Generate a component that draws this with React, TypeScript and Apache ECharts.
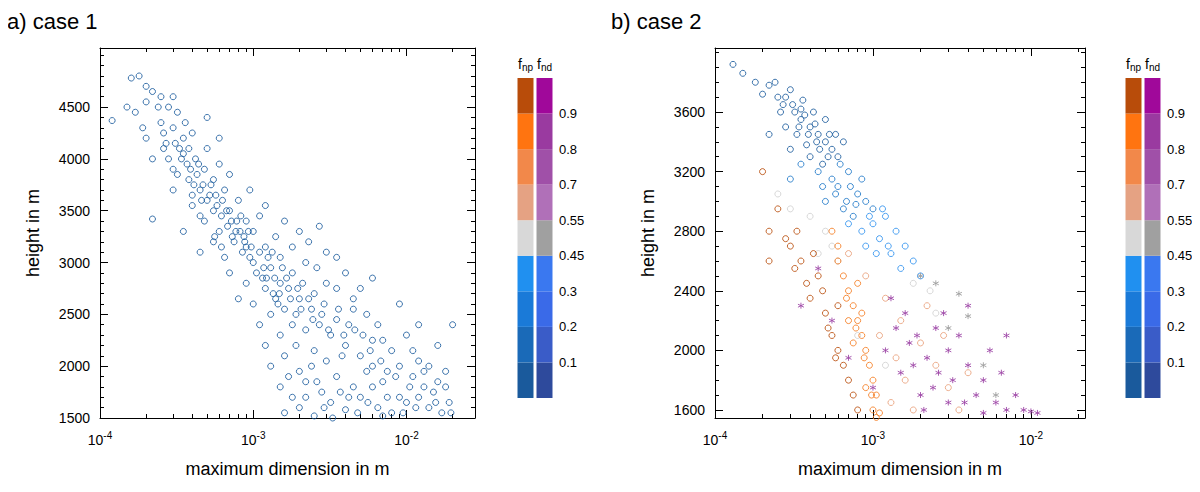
import React, { useEffect, useRef } from "react";
import * as echarts from "echarts";

// diameter in mm, height in m
const case1Points: number[][] = [
  [0.12, 4370], [0.15, 4500], [0.16, 4780], [0.18, 4800], [0.2, 4700], [0.22, 4650], [0.17, 4450], [0.25, 4600],
  [0.2, 4200], [0.22, 4000], [0.25, 4350], [0.28, 4500], [0.3, 4300], [0.27, 4150], [0.32, 4450], [0.35, 4200],
  [0.3, 3900], [0.35, 4050], [0.4, 4250], [0.38, 3800], [0.42, 4000], [0.45, 3700], [0.5, 4100], [0.48, 3900],
  [0.55, 3800], [0.6, 3950], [0.5, 3600], [0.55, 3500], [0.65, 3700], [0.7, 3850], [0.22, 3420], [0.35, 3300],
  [0.45, 3450], [0.6, 3300], [0.7, 3500], [0.8, 3600], [0.9, 3400], [0.75, 3200], [0.85, 3100], [1.0, 3300],
  [1.1, 3450], [0.65, 3050], [0.7, 2900], [0.9, 2800], [1.0, 3000], [1.2, 3150], [1.4, 3250], [1.6, 3400],
  [1.3, 2950], [1.5, 3050], [1.8, 3150], [2.0, 3300], [2.3, 3200], [0.8, 2650], [1.0, 2600], [1.2, 2750],
  [1.5, 2800], [1.8, 2900], [2.2, 3000], [2.6, 2950], [3, 3100], [1.1, 2400], [1.3, 2500], [1.6, 2550],
  [2, 2650], [2.5, 2700], [3, 2800], [3.5, 2750], [4, 2900], [4.5, 2650], [1.2, 2200], [1.5, 2300],
  [1.8, 2400], [2.2, 2350], [2.8, 2500], [3.5, 2450], [4.5, 2550], [5.5, 2500], [6.5, 2400], [7, 2250],
  [1.3, 2000], [1.6, 2100], [2, 1950], [2.5, 2150], [3, 2050], [4, 2200], [5, 2100], [6, 2250],
  [8, 2150], [10, 2300], [12, 2050], [1.5, 1800], [1.8, 1700], [2.2, 1850], [2.8, 1750], [3.5, 1900],
  [4.5, 1800], [5.5, 1950], [7, 1850], [9, 1700], [11, 1900], [13, 1800], [15, 1750], [18, 1950],
  [1.6, 1550], [2, 1600], [2.5, 1520], [3.2, 1650], [4, 1580], [5, 1700], [6.5, 1600], [8, 1550],
  [10, 1650], [14, 1600], [17, 1550], [20, 2400], [19, 1650], [0.95, 3700], [1.2, 3550], [0.4, 3550],
  [0.3, 3700], [0.28, 4000], [0.5, 4400], [0.6, 4200], [2.7, 3350], [3.5, 3050], [5, 2750], [6, 2850],
  [9, 2600], [12, 2400], [16, 2200], [1.7, 1900], [2.4, 2000], [1.4, 2650], [0.9, 3150], [0.55, 3200],
  [0.45, 3100], [0.26, 4250], [0.33, 4100], [0.37, 3950], [0.43, 3850], [0.47, 3750], [0.52, 3650], [0.58, 3550],
  [0.62, 3450], [0.68, 3350], [0.73, 3250], [0.78, 3400], [0.82, 3300], [0.88, 3200], [0.95, 3050], [1.05, 2900],
  [1.15, 2850], [1.25, 3050], [1.35, 2700], [1.45, 2600], [1.55, 2950], [1.7, 2750], [1.9, 2500], [2.1, 2800],
  [2.4, 2550], [2.7, 2400], [3.2, 2300], [3.8, 2100], [4.2, 2400], [5.2, 2300], [6, 2000], [7.5, 1950],
  [9, 2000], [11, 2150], [14, 2000], [16, 1850], [1.9, 2200], [2.6, 1850], [3.3, 1500], [4.2, 1700],
  [6, 1800], [7.5, 1700], [12, 1700], [0.32, 3850], [0.4, 3650], [0.48, 3400], [0.56, 3250], [0.62, 3150],
  [0.34, 4000], [0.39, 3900], [0.44, 3950], [0.41, 3750], [0.46, 3600], [0.53, 3750], [0.57, 3650], [0.63, 3600],
  [0.67, 3500], [0.72, 3400], [0.77, 3300], [0.83, 3450], [0.87, 3250], [0.93, 3300], [0.97, 3150], [1.1, 3100],
  [1.17, 2950], [1.22, 2850], [1.33, 3100], [1.38, 2850], [1.48, 2700], [1.65, 2850], [1.75, 2650], [1.95, 2750],
  [2.05, 2550], [2.3, 2650], [2.45, 2450], [2.9, 2600], [3.1, 2350], [3.6, 2550], [3.9, 2300], [4.6, 2350],
  [5.8, 2150], [6.8, 2050], [8.5, 1900], [10.5, 1800], [13, 1950], [15.5, 1650], [18, 1800], [19.5, 1550],
  [2.2, 1700], [2.9, 1600], [3.7, 1750], [4.8, 1550], [5.6, 1650], [7, 1520], [9.5, 1550], [11.5, 1600],
  [0.24, 4500], [0.3, 4600], [0.36, 4350], [0.31, 4150], [0.38, 4100], [0.26, 4100], [0.2, 4550], [0.19, 4300],
];

const case2DarkBlue: number[][] = [
  [0.13, 3920], [0.15, 3860], [0.18, 3800], [0.2, 3720], [0.22, 3780], [0.25, 3700], [0.27, 3650], [0.3, 3750],
  [0.32, 3600], [0.35, 3550], [0.28, 3500], [0.4, 3500], [0.45, 3450], [0.38, 3380], [0.5, 3400], [0.55, 3350],
  [0.6, 3300], [0.48, 3250], [0.65, 3400], [0.3, 3350], [0.22, 3450], [0.42, 3600], [0.5, 3550], [0.36, 3680],
  [0.26, 3600], [0.33, 3450], [0.4, 3300], [0.44, 3400], [0.52, 3300], [0.58, 3450], [0.35, 3620], [0.28, 3700],
  [0.31, 3650], [0.34, 3500], [0.37, 3580], [0.39, 3450], [0.43, 3520], [0.46, 3350], [0.53, 3450], [0.24, 3800],
];
const case2MidBlue: number[][] = [
  [0.35, 3250], [0.45, 3200], [0.55, 3150], [0.6, 3100], [0.7, 3200], [0.8, 3050], [0.5, 3000], [0.65, 2950],
  [0.75, 2900], [0.9, 3000], [1.0, 2950], [0.3, 3150], [0.58, 3050], [0.68, 3000], [0.85, 3150], [0.62, 3250],
  [0.72, 3100], [0.78, 2980], [0.48, 3100],
];
const case2LightBlue: number[][] = [
  [0.7, 2850], [0.85, 2800], [1.0, 2850], [1.1, 2750], [1.2, 2900], [1.4, 2800], [1.6, 2700], [1.3, 2650],
  [1.8, 2600], [0.9, 2700], [1.5, 2550], [2.0, 2500], [0.95, 2900], [1.15, 2950], [1.25, 2700], [1.05, 2650],
];
const case2Grey: number[][] = [
  [0.25, 3050], [0.3, 2950], [0.4, 2900], [0.5, 2800], [0.55, 2700], [0.45, 2650], [0.6, 2600], [1.8, 2450],
  [2.3, 2400], [2.5, 2250], [0.8, 2100], [1.2, 1900],
];
const case2DarkOrange: number[][] = [
  [0.2, 3200], [0.22, 2600], [0.22, 2800], [0.25, 2950], [0.28, 2750], [0.3, 2700], [0.32, 2550], [0.35, 2600],
  [0.38, 2450], [0.4, 2350], [0.45, 2500], [0.5, 2250], [0.55, 2100], [0.6, 2000], [0.65, 1900], [0.7, 1800],
  [0.6, 2300], [0.75, 1700], [0.8, 1600], [0.33, 2800], [0.42, 2650], [0.48, 2400], [0.52, 2150], [0.58, 1950],
];
const case2Orange: number[][] = [
  [0.55, 2800], [0.6, 2600], [0.65, 2500], [0.7, 2400], [0.75, 2300], [0.8, 2200], [0.85, 2100], [0.9, 2000],
  [0.95, 1900], [1.0, 1800], [1.05, 1700], [1.0, 1600], [0.7, 2200], [0.8, 2450], [0.9, 1750], [1.1, 1580],
  [0.6, 2700], [0.75, 2050], [0.68, 2350], [0.78, 2150], [0.88, 1950], [0.98, 1700], [1.05, 1550], [0.85, 2250],
];
const case2LightOrange: number[][] = [
  [0.7, 2650], [0.9, 2500], [1.2, 2350], [1.5, 2200], [2, 2050], [2.5, 1900], [3, 1750], [1.3, 1650],
  [1.8, 1600], [4, 1850], [1.1, 2100], [2.2, 2300], [1.6, 1800], [2.8, 2100], [3.5, 1600], [1.4, 1950],
];
const case2PurpleStars: number[][] = [
  [0.35, 2300], [0.45, 2550], [0.55, 2200], [0.7, 1950], [1.0, 1750], [1.2, 2000], [1.4, 2150], [1.6, 2250],
  [1.9, 2100], [2.2, 1950], [2.6, 1850], [3, 2000], [3.5, 2100], [4, 1900], [4.5, 1700], [5, 1800],
  [6, 1650], [7, 1600], [8, 1700], [9, 1600], [10, 1590], [2, 1700], [1.5, 1850], [3, 1650],
  [5.5, 2000], [4, 2300], [2.8, 2250], [1.3, 2350], [11, 1580], [6.5, 1850], [7, 2100], [1.8, 1900],
  [2.4, 1750], [3.2, 1800], [2.1, 1600], [1.7, 2050], [2.5, 2150], [3.8, 1650], [5, 1580],
];
const case2GreyStars: number[][] = [
  [2, 2500], [2.5, 2450], [3.5, 2380], [4, 2230], [3, 2150], [5, 1900], [6, 1700],
];

const barColumns = ["np", "nd"];
const fnpColors = ["#1a5a9c", "#1a6ab8", "#1a7ad8", "#2090f0", "#d8d8d8", "#e5a283", "#f2884a", "#ff7410", "#b84c0a"];
const fndColors = ["#2e4a9c", "#3a5cc8", "#3a6ae8", "#3a78f0", "#a0a0a0", "#b070b8", "#a050a8", "#9a3aa0", "#a0089a"];
const barLabels = ["0.1", "0.2", "0.3", "0.45", "0.55", "0.7", "0.8", "0.9"];

const font = "Liberation Sans, Arial, sans-serif";
const toM = (pts: number[][]) => pts.map((p) => [p[0] / 1000, p[1]]);
const star = "path://M0,-10L0,10M-8.66,-5L8.66,5M-8.66,5L8.66,-5";

const logLabel = (v: number) => {
  const e = Math.round(Math.log10(v));
  if (Math.abs(v - Math.pow(10, e)) / v > 1e-6) return "";
  return `{b|10}{s|${e}}`;
};

const App: React.FC = () => {
  const ref = useRef<HTMLDivElement>(null);

  useEffect(() => {
    if (!ref.current) return;
    const chart = echarts.init(ref.current, undefined, { renderer: "svg" });

    const grids = [
      { left: 92, top: 40, width: 375, height: 370, outerBoundsMode: "none" },
      { left: 707, top: 40, width: 370, height: 370, outerBoundsMode: "none" },
      { left: 508, top: 70, width: 38, height: 320, outerBoundsMode: "none" },
      { left: 1116, top: 70, width: 38, height: 320, outerBoundsMode: "none" },
    ];
    const axLine = { show: true, lineStyle: { color: "#000", width: 1 } };
    const xAxes: any[] = [];
    const yAxes: any[] = [];
    [0.028, 0.022].forEach((mx, g) => {
      [false, true].forEach((mirror) => {
        xAxes.push({
          type: "log", logBase: 10, min: 1e-4, max: mx, gridIndex: g,
          position: mirror ? "top" : "bottom",
          axisLine: axLine,
          axisTick: { show: true, inside: true, length: 8, lineStyle: { color: "#000" } },
          minorTick: { show: true, splitNumber: 9, length: 4, lineStyle: { color: "#000" } },
          splitLine: { show: false },
          axisLabel: mirror ? { show: false } : {
            formatter: logLabel, margin: 12,
            rich: {
              b: { fontSize: 14, fontFamily: font, color: "#000" },
              s: { fontSize: 10, fontFamily: font, color: "#000", padding: [0, 0, 10, 0] },
            },
          },
          name: mirror ? "" : "maximum dimension in m",
          nameLocation: "middle", nameGap: 42,
          nameTextStyle: { fontSize: 18, fontFamily: font, color: "#000" },
        });
      });
    });
    const yDefs = [
      { min: 1500, max: 5070, labels: [1500, 2000, 2500, 3000, 3500, 4000, 4500], minor: [] as number[] },
      { min: 1546, max: 4030, labels: [1600, 2000, 2400, 2800, 3200, 3600], minor: [] as number[] },
    ];
    yDefs[0].minor = Array.from({ length: 36 }, (_, i) => 1500 + i * 100);
    yDefs[1].minor = Array.from({ length: 25 }, (_, i) => 1600 + i * 100).filter((v) => v <= 4030);
    yDefs.forEach((d, g) => {
      [false, true].forEach((mirror) => {
        yAxes.push({
          type: "value", min: d.min, max: d.max, gridIndex: g,
          position: mirror ? "right" : "left",
          axisLine: axLine,
          axisTick: { show: true, inside: true, length: 8, customValues: d.labels, lineStyle: { color: "#000" } },
          splitLine: { show: false },
          axisLabel: mirror ? { show: false } : {
            customValues: d.labels, fontSize: 14, fontFamily: font, color: "#000", margin: 10,
            formatter: (v: number) => String(v),
          },
          name: mirror ? "" : "height in m",
          nameLocation: "middle", nameGap: 58,
          nameTextStyle: { fontSize: 18, fontFamily: font, color: "#000" },
        });
      });
    });
    yDefs.forEach((d, g) => {
      [false, true].forEach((mirror) => {
        yAxes.push({
          type: "value", min: d.min, max: d.max, gridIndex: g,
          position: mirror ? "right" : "left",
          axisLine: { show: false },
          axisTick: { show: true, inside: true, length: 4, customValues: d.minor, lineStyle: { color: "#000" } },
          splitLine: { show: false },
          axisLabel: { show: false },
        });
      });
    });
    const barY0 = yAxes.length;
    [2, 3].forEach((g) => {
      xAxes.push({
        type: "category", data: barColumns, gridIndex: g, position: "top",
        axisLine: { show: false }, axisTick: { show: false },
        axisLabel: {
          interval: 0, margin: 6, formatter: (v: string) => `{f|f}{s|${v}}`,
          rich: {
            f: { fontSize: 14, fontFamily: font, color: "#000" },
            s: { fontSize: 10, fontFamily: font, color: "#000", padding: [6, 0, 0, 0] },
          },
        },
      });
      yAxes.push({
        type: "value", min: 0, max: 9, gridIndex: g, position: "right",
        axisLine: { show: false }, axisTick: { show: false }, splitLine: { show: false },
        axisLabel: {
          customValues: [1, 2, 3, 4, 5, 6, 7, 8], fontSize: 13, fontFamily: font, color: "#000", margin: 5,
          formatter: (v: number) => barLabels[Math.round(v) - 1] ?? "",
        },
      });
    });

    const circle = (data: number[][], color: string, g: number, opacity = 0.85) => ({
      type: "scatter", xAxisIndex: g * 2, yAxisIndex: g * 2, data: toM(data),
      symbol: "circle", symbolSize: 6,
      itemStyle: { color: "rgba(0,0,0,0)", borderColor: color, borderWidth: 1, opacity },
    });
    const stars = (data: number[][], color: string) => ({
      type: "scatter", xAxisIndex: 2, yAxisIndex: 2, data: toM(data),
      symbol: star, symbolSize: 6,
      itemStyle: { color: "rgba(0,0,0,0)", borderColor: color, borderWidth: 1, opacity: 0.9 },
    });

    const cells: number[][] = [];
    fnpColors.forEach((_, i) => { cells.push([0, i]); cells.push([1, i]); });
    const barSeries = [0, 1].map((b) => ({
      type: "custom", xAxisIndex: 4 + b, yAxisIndex: barY0 + b,
      data: cells,
      renderItem: (_p: any, api: any) => {
        const col = api.value(0);
        const bin = api.value(1);
        const lo = api.coord([col, bin]);
        const hi = api.coord([col, bin + 1]);
        const w = api.size([1, 0])[0] - 3;
        return {
          type: "rect",
          shape: { x: lo[0] - w / 2, y: hi[1], width: w, height: lo[1] - hi[1] },
          style: { fill: (col === 0 ? fnpColors : fndColors)[bin] },
        };
      },
    }));

    chart.setOption({
      animation: false,
      grid: grids,
      xAxis: xAxes,
      yAxis: yAxes,
      title: [
        { text: "a) case 1", left: -6, top: -3, textStyle: { fontSize: 22, fontWeight: "normal", fontFamily: font, color: "#000" } },
        { text: "b) case 2", left: 598, top: -3, textStyle: { fontSize: 22, fontWeight: "normal", fontFamily: font, color: "#000" } },
      ],
      series: [
        circle(case1Points, "#1a5a9c", 0),
        circle(case2Grey, "#c8c8c8", 1, 0.7),
        circle(case2LightOrange, "#e9a07a", 1),
        circle(case2LightBlue, "#2e90ee", 1),
        circle(case2MidBlue, "#1f78c8", 1),
        circle(case2DarkBlue, "#1a5a9c", 1),
        circle(case2DarkOrange, "#b84c0a", 1),
        circle(case2Orange, "#f47b20", 1),
        stars(case2GreyStars, "#a0a0a0"),
        stars(case2PurpleStars, "#a04aa8"),
        ...barSeries,
      ],
    });
    return () => chart.dispose();
  }, []);

  return <div ref={ref} style={{ width: 1190, height: 470 }} />;
};

export default App;
